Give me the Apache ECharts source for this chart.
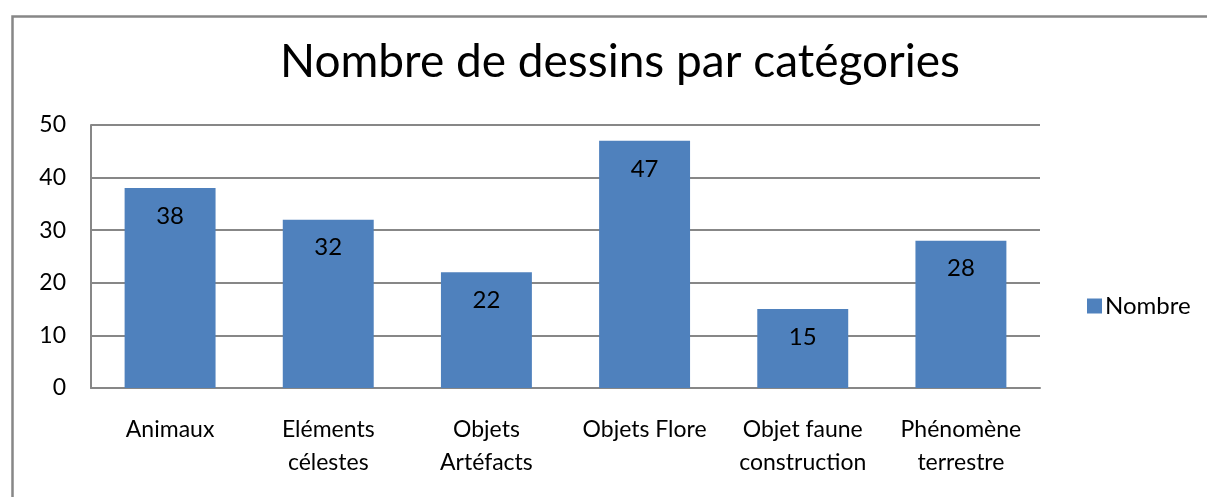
<!DOCTYPE html>
<html>
<head>
<meta charset="utf-8">
<script src="https://cdn.jsdelivr.net/npm/echarts@6/dist/echarts.min.js"></script>
<style>html,body{margin:0;padding:0;background:#fff}#c{width:1207px;height:497px}</style>
</head>
<body>
<div id="c"></div>
<script>
const titleText = 'Nombre de dessins par catégories';
const categories = ['Animaux', 'Eléments\ncélestes', 'Objets\nArtéfacts', 'Objets Flore', 'Objet faune\nconstruction', 'Phénomène\nterrestre'];
const seriesName = 'Nombre';
const values = [38, 32, 22, 47, 15, 28];
const yMin = 0, yMax = 50, yStep = 10;

const FONT = 'Lato';
const chart = echarts.init(document.getElementById('c'), null, {renderer: 'canvas'});
chart.setOption({
  animation: false,
  backgroundColor: '#fff',
  textStyle: {fontFamily: FONT},
  graphic: [{
    type: 'rect', left: 10, top: 14,
    shape: {width: 1300, height: 600},
    style: {fill: 'none', stroke: '#878787', lineWidth: 2.5},
    silent: true
  }],
  title: {
    text: titleText, left: 280, top: 39, itemGap: 0, padding: 0,
    textStyle: {fontFamily: FONT, fontSize: 46, fontWeight: 'normal', color: '#000'}
  },
  legend: {
    data: [seriesName], orient: 'vertical', left: 1082, top: 289,
    icon: 'rect', itemWidth: 15, itemHeight: 15, itemGap: 8,
    textStyle: {fontFamily: FONT, fontSize: 24, color: '#000', padding: [0, 0, 0, -2]}
  },
  grid: {left: 91, right: 167, top: 125, bottom: 109, containLabel: false},
  xAxis: {
    type: 'category', data: categories,
    axisLine: {lineStyle: {color: '#878787', width: 2}},
    axisTick: {show: false},
    axisLabel: {interval: 0, color: '#000', fontFamily: FONT, fontSize: 23, lineHeight: 33, margin: 25, align: 'center'},
    splitLine: {show: false}
  },
  yAxis: {
    type: 'value', min: yMin, max: yMax, interval: yStep,
    axisLine: {show: true, lineStyle: {color: '#878787', width: 2}},
    axisTick: {show: false},
    axisLabel: {color: '#000', fontFamily: FONT, fontSize: 23, margin: 25},
    splitLine: {show: true, lineStyle: {color: '#878787', width: 2}}
  },
  series: [{
    name: seriesName, type: 'bar', data: values,
    barWidth: '57.5%',
    itemStyle: {color: '#4F81BD'},
    label: {show: true, position: 'insideTop', distance: 16, color: '#000', fontFamily: FONT, fontSize: 24}
  }]
});
</script>
</body>
</html>
